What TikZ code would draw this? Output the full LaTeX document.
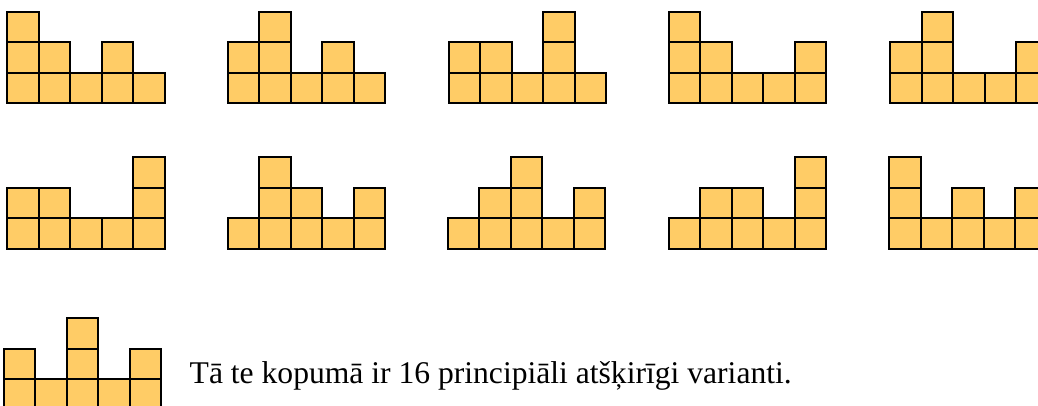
\documentclass[tikz,border=0pt]{standalone}
\usepackage{fontspec}
\setmainfont{Liberation Serif}
\definecolor{cellfill}{RGB}{255,204,102}
\tikzset{cell/.style={draw=black,fill=cellfill,line width=2pt}}
% #1 left edge, #2 bottom edge, #3 column heights
\newcommand\blocks[3]{%
  \foreach \h [count=\i] in {#3}{
    \foreach \j in {1,...,\h}{
      \draw[cell] ({#1+(\i-1)*\cw},{#2-(\j-1)*\ch}) rectangle ++(\cw,-\ch);
    }
  }
}

\begin{document}
\begin{tikzpicture}[x=1pt,y=-1pt]
    \clip (0,0) rectangle (1038,406);
    \useasboundingbox (0,0) rectangle (1038,406);
        \pgfmathsetmacro{\cw}{31.5}
        \pgfmathsetmacro{\ch}{30.4}
        % first row
        \blocks{7.3}{103.3}{3,2,1,2,1}
        \blocks{227.7}{103.3}{2,3,1,2,1}
        \blocks{448.7}{103.3}{2,2,1,3,1}
        \blocks{668.7}{103.3}{3,2,1,1,2}
        \blocks{890}{103.3}{2,3,1,1,2}
        % second row
        \blocks{7.3}{248.7}{2,2,1,1,3}
        \blocks{227.7}{248.7}{1,3,2,1,2}
        \blocks{447.7}{248.7}{1,2,3,1,2}
        \blocks{668.7}{248.7}{1,2,2,1,3}
        \blocks{889}{248.7}{3,1,2,1,2}
        % last one
        \blocks{3.7}{409.5}{2,1,3,1,2}
          \node[anchor=base west,inner sep=0pt,font=\fontsize{31.6}{38}\selectfont] (kopa) at (189.5,383.3) {Tā te kopumā ir 16 principiāli atšķirīgi varianti.};
\end{tikzpicture}
\end{document}
